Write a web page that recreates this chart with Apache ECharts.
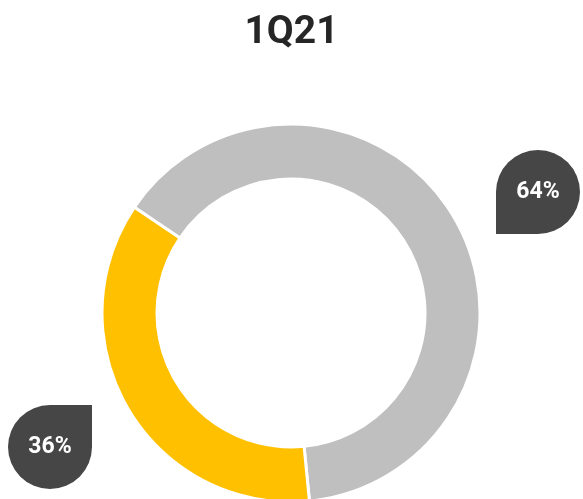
<!DOCTYPE html>
<html>
<head>
<meta charset="utf-8">
<script src="https://cdn.jsdelivr.net/npm/echarts@6/dist/echarts.min.js"></script>
<style>html,body{margin:0;padding:0;background:#fff}#c{width:583px;height:499px}</style>
</head>
<body>
<div id="c"></div>
<script>
const titleText = '1Q21';
const categories = ['Other', 'Segment'];
const values = [64, 36];
const colors = ['#BFBFBF', '#FFC000'];

const chart = echarts.init(document.getElementById('c'));
const bubblePos = [
  {x: 538, y: 192, r: [42, 42, 42, 0]},
  {x: 50, y: 447, r: [42, 0, 42, 42]}
];
chart.setOption({
  animation: false,
  title: {
    text: titleText, left: 'center', top: 9,
    textStyle: {fontFamily: 'Roboto', fontWeight: 'bold', fontSize: 39, color: '#262626'}
  },
  series: [{
    type: 'pie',
    center: [291, 313],
    radius: [134, 189],
    startAngle: 146,
    clockwise: true,
    itemStyle: {borderColor: '#fff', borderWidth: 3},
    labelLine: {show: false},
    label: {
      show: true,
      position: 'outside',
      formatter: p => p.value + '%',
      fontFamily: 'Roboto', fontWeight: 'bold', fontSize: 23, color: '#fff'
    },
    labelLayout: function (p) {
      const b = bubblePos[p.dataIndex];
      return {x: b.x, y: b.y, align: 'center', verticalAlign: 'middle'};
    },
    data: categories.map((c, i) => ({
      name: c, value: values[i],
      itemStyle: {color: colors[i]},
      label: {
        backgroundColor: '#464646', width: 84, height: 84, lineHeight: 84,
        align: 'center', borderRadius: bubblePos[i].r
      }
    }))
  }]
});
</script>
</body>
</html>
